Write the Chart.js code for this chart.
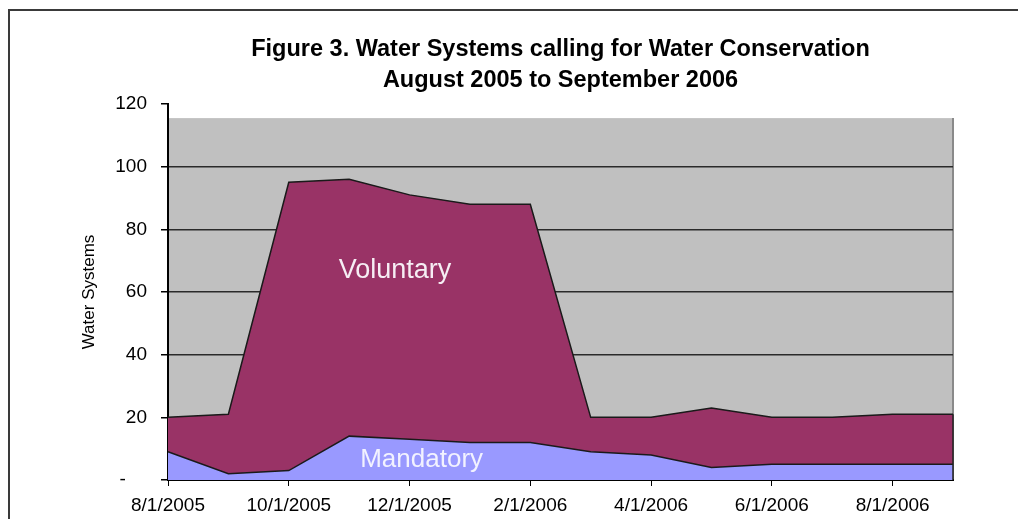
<!DOCTYPE html>
<html lang="en">
<head>
  <meta charset="UTF-8">
  <title>Figure 3. Water Systems calling for Water Conservation</title>
  <script src="https://cdn.jsdelivr.net/npm/chart.js"></script>
  <style>
    html, body { margin: 0; padding: 0; background: #fff; overflow: hidden; }
    #wrap { position: relative; width: 1018px; height: 519px; }
    #chart { position: absolute; left: 0; top: 0; }
    .frame { position: absolute; left: 8px; top: 9px; width: 1100px; height: 600px;
             border-left: 2px solid #3a3a3a; border-top: 2px solid #3a3a3a; pointer-events: none; }
  </style>
</head>
<body>
  <div id="wrap">
    <canvas id="chart" width="1018" height="519"></canvas>
    <div class="frame"></div>
  </div>

  <script>
    // data
    const months = ['8/1/2005', '9/1/2005', '10/1/2005', '11/1/2005', '12/1/2005', '1/1/2006', '2/1/2006',
                    '3/1/2006', '4/1/2006', '5/1/2006', '6/1/2006', '7/1/2006', '8/1/2006', '9/1/2006'];
    const mandatory = [9, 2, 3, 14, 13, 12, 12, 9, 8, 4, 5, 5, 5, 5];
    const voluntary = [11, 19, 92, 82, 78, 76, 76, 11, 12, 19, 15, 15, 16, 16];
    const titleLines = ['Figure 3. Water Systems calling for Water Conservation', 'August 2005 to September 2006'];
    const yMax = 120;
    const yStep = 20;

    const FONT = 'Arial, "Liberation Sans", sans-serif';

    // grey plot background (Excel stops it a bit under the top tick) plus area labels
    const plotDecor = {
      id: 'plotDecor',
      beforeDraw(chart) {
        const { ctx, chartArea, scales } = chart;
        const top = scales.y.getPixelForValue(115.5);
        ctx.save();
        ctx.fillStyle = '#c0c0c0';
        ctx.fillRect(chartArea.left, top, chartArea.right - chartArea.left, chartArea.bottom - top);
        ctx.strokeStyle = '#8a8a8a';
        ctx.lineWidth = 2;
        ctx.beginPath();
        ctx.moveTo(chartArea.right, top);
        ctx.lineTo(chartArea.right, chartArea.bottom);
        ctx.stroke();
        ctx.restore();
      },
      afterDatasetsDraw(chart) {
        const { ctx, chartArea, scales } = chart;
        ctx.save();
        // right edge outline of the stacked areas
        ctx.strokeStyle = '#222';
        ctx.lineWidth = 1.5;
        ctx.beginPath();
        ctx.moveTo(chartArea.right, scales.y.getPixelForValue(mandatory[13] + voluntary[13]));
        ctx.lineTo(chartArea.right, chartArea.bottom);
        ctx.stroke();

        ctx.textAlign = 'center';
        ctx.textBaseline = 'middle';
        ctx.font = '27px ' + FONT;
        ctx.fillStyle = '#f6eef4';
        ctx.fillText('Voluntary', scales.x.getPixelForValue(3.76), scales.y.getPixelForValue(67));
        ctx.font = '26px ' + FONT;
        ctx.fillStyle = '#f2f2ff';
        ctx.fillText('Mandatory', scales.x.getPixelForValue(4.2), scales.y.getPixelForValue(6.5));
        ctx.restore();
      }
    };

    const ctx = document.getElementById('chart').getContext('2d');
    new Chart(ctx, {
      type: 'line',
      data: {
        labels: months,
        datasets: [
          {
            label: 'Mandatory',
            data: mandatory,
            backgroundColor: '#9999ff',
            borderColor: '#1a1a1a',
            borderWidth: 1.5,
            fill: 'origin',
            pointRadius: 0,
            tension: 0
          },
          {
            label: 'Voluntary',
            data: voluntary,
            backgroundColor: '#993366',
            borderColor: '#1a1a1a',
            borderWidth: 1.5,
            fill: '-1',
            pointRadius: 0,
            tension: 0
          }
        ]
      },
      options: {
        responsive: false,
        animation: false,
        layout: { padding: { left: 0, right: 65, top: 0, bottom: 0 } },
        plugins: {
          legend: { display: false },
          tooltip: { enabled: false },
          title: {
            display: true,
            text: titleLines,
            fullSize: false,
            color: '#000',
            font: { family: FONT, size: 23.5, weight: 'bold', lineHeight: 31 / 23.5 },
            padding: { top: 34, bottom: 8 }
          }
        },
        scales: {
          x: {
            offset: false,
            grid: {
              drawOnChartArea: false,
              drawTicks: true,
              tickLength: 6,
              tickColor: c => (c.index % 2 === 0 ? '#000' : 'rgba(0,0,0,0)')
            },
            border: { display: true, color: '#000', width: 2 },
            ticks: {
              autoSkip: false,
              maxRotation: 0,
              padding: 8,
              color: '#000',
              font: { family: FONT, size: 19 },
              callback: (v, i) => (i % 2 === 0 ? months[i] : '')
            },
            afterFit: s => { s.height = 39; }
          },
          y: {
            stacked: true,
            min: 0,
            max: yMax,
            grid: {
              color: c => (c.tick && c.tick.value === yMax ? 'rgba(0,0,0,0)' : '#2a2a2a'),
              lineWidth: 1.5,
              tickColor: '#000',
              tickLength: 7
            },
            border: { display: true, color: '#000', width: 2 },
            ticks: {
              stepSize: yStep,
              padding: 14,
              color: '#000',
              font: { family: FONT, size: 19 },
              callback: v => (v === 0 ? '-    ' : v)
            },
            title: {
              display: true,
              text: 'Water Systems',
              color: '#000',
              font: { family: FONT, size: 17 },
              padding: { top: 79, bottom: 0 }
            },
            afterFit: s => { s.width = 168; }
          }
        }
      },
      plugins: [plotDecor]
    });
  </script>
</body>
</html>
